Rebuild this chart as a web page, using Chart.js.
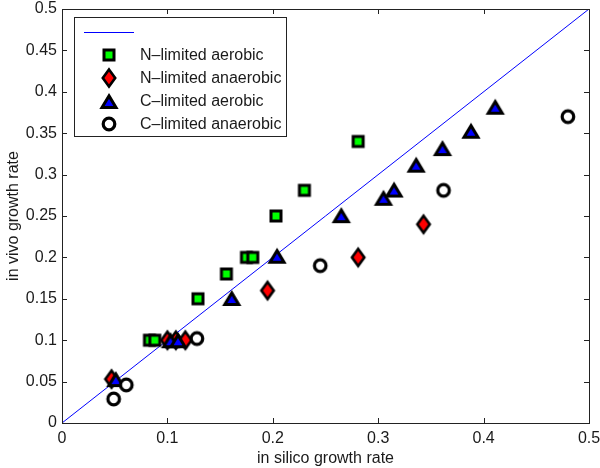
<!DOCTYPE html>
<html>
<head>
  <meta charset="utf-8" />
  <script src="https://cdn.jsdelivr.net/npm/chart.js@4.4.0/dist/chart.umd.min.js"></script>
  <style>
    body{margin:0;background:#fff;overflow:hidden;}
  </style>
</head>
<body>
<canvas id="growthChart" width="600" height="468"></canvas>

<script>
// growth rates: x = in silico, y = in vivo
const diagX = [0, 0.5];
const diagY = [0, 0.5];

const nAerX = [0.083, 0.088, 0.129, 0.156, 0.175, 0.181, 0.203, 0.230, 0.281];
const nAerY = [0.100, 0.100, 0.150, 0.180, 0.200, 0.200, 0.250, 0.281, 0.340];

const nAnaerX = [0.047, 0.100, 0.108, 0.117, 0.195, 0.281, 0.343];
const nAnaerY = [0.053, 0.100, 0.100, 0.100, 0.160, 0.200, 0.240];

const cAerX = [0.051, 0.103, 0.110, 0.161, 0.204, 0.265, 0.305, 0.315, 0.336, 0.361, 0.388, 0.411];
const cAerY = [0.053, 0.100, 0.100, 0.151, 0.202, 0.251, 0.272, 0.282, 0.312, 0.332, 0.353, 0.382];

const cAnaerX = [0.049, 0.061, 0.128, 0.245, 0.362, 0.480];
const cAnaerY = [0.029, 0.046, 0.102, 0.190, 0.281, 0.370];

const seriesNames = ['', 'N\u2013limited aerobic', 'N\u2013limited anaerobic', 'C\u2013limited aerobic', 'C\u2013limited anaerobic'];

const xTicks = [0, 0.1, 0.2, 0.3, 0.4, 0.5];
const xTickLabels = ['0', '0.1', '0.2', '0.3', '0.4', '0.5'];
const yTicks = [0, 0.05, 0.1, 0.15, 0.2, 0.25, 0.3, 0.35, 0.4, 0.45, 0.5];
const yTickLabels = ['0', '0.05', '0.1', '0.15', '0.2', '0.25', '0.3', '0.35', '0.4', '0.45', '0.5'];

const FONT = '"Liberation Sans", Arial, Helvetica, sans-serif';
const INK = '#1a1a1a';
const TICK = 5;

const pts = (xs, ys) => xs.map((x, i) => ({ x: x, y: ys[i] }));

// matlab-ish markers drawn on little canvases
function marker(kind, fill){
  const c = document.createElement('canvas');
  const size = { square:[16,16], diamond:[20,26], triangle:[22,20], circle:[18,18] }[kind];
  c.width = size[0]; c.height = size[1];
  const g = c.getContext('2d');
  g.fillStyle = fill; g.strokeStyle = '#000'; g.lineJoin = 'miter';
  g.beginPath();
  if(kind === 'square'){
    g.lineWidth = 3; g.rect(3, 3, 10, 10);
  } else if(kind === 'diamond'){
    g.lineWidth = 2.6;
    g.moveTo(10, 4.5); g.lineTo(16.2, 13); g.lineTo(10, 21.5); g.lineTo(3.8, 13); g.closePath();
  } else if(kind === 'triangle'){
    g.lineWidth = 3;
    g.moveTo(11, 4.9); g.lineTo(18, 16.4); g.lineTo(4, 16.4); g.closePath();
  } else {
    g.lineWidth = 3.2; g.arc(9, 9, 5.8, 0, Math.PI*2);
  }
  g.fill(); g.stroke();
  return c;
}

const frameTicks = {
  id: 'frameTicks',
  afterDatasetsDraw(chart){
    const { ctx, chartArea: a, scales: { x, y } } = chart;
    ctx.save();
    ctx.strokeStyle = '#222'; ctx.lineWidth = 1;
    ctx.beginPath();
    xTicks.forEach(v => {
      const px = Math.round(x.getPixelForValue(v)) + 0.5;
      ctx.moveTo(px, a.bottom); ctx.lineTo(px, a.bottom - TICK);
      ctx.moveTo(px, a.top); ctx.lineTo(px, a.top + TICK);
    });
    yTicks.forEach(v => {
      const py = Math.round(y.getPixelForValue(v)) + 0.5;
      ctx.moveTo(a.left, py); ctx.lineTo(a.left + TICK, py);
      ctx.moveTo(a.right, py); ctx.lineTo(a.right - TICK, py);
    });
    ctx.stroke();
    ctx.strokeRect(Math.round(a.left) + 0.5, Math.round(a.top) + 0.5, Math.round(a.right - a.left), Math.round(a.bottom - a.top));
    ctx.restore();
  }
};

// boxed legend in the top-left corner of the axes
const boxLegend = {
  id: 'boxLegend',
  afterDraw(chart){
    const { ctx, chartArea: a } = chart;
    const bx = Math.round(a.left) + 12, by = Math.round(a.top) + 8, bw = 212, bh = 119;
    ctx.save();
    ctx.fillStyle = '#fff'; ctx.fillRect(bx, by, bw, bh);
    ctx.strokeStyle = '#222'; ctx.lineWidth = 1; ctx.strokeRect(bx + 0.5, by + 0.5, bw, bh);
    ctx.font = '16px ' + FONT; ctx.fillStyle = INK; ctx.textBaseline = 'middle';
    chart.data.datasets.forEach((ds, i) => {
      const cy = by + 15 + i * 23, cx = bx + 35;
      if(ds.showLine){
        ctx.strokeStyle = ds.borderColor; ctx.lineWidth = 1;
        ctx.beginPath(); ctx.moveTo(cx - 25, cy + 0.5); ctx.lineTo(cx + 25, cy + 0.5); ctx.stroke();
      } else {
        const m = ds.pointStyle;
        ctx.drawImage(m, Math.round(cx - m.width/2), Math.round(cy - m.height/2));
      }
      ctx.fillText(ds.label, bx + 66, cy + 1);
    });
    ctx.restore();
  }
};

new Chart(document.getElementById('growthChart'), {
  type: 'scatter',
  data: {
    datasets: [
      { label: seriesNames[0], data: pts(diagX, diagY), showLine: true, borderColor: '#0000ff', borderWidth: 1, pointRadius: 0, order: 5 },
      { label: seriesNames[1], data: pts(nAerX, nAerY), pointStyle: marker('square', '#00ff00'), pointRadius: 7, order: 4 },
      { label: seriesNames[2], data: pts(nAnaerX, nAnaerY), pointStyle: marker('diamond', '#ff0000'), pointRadius: 7, order: 3 },
      { label: seriesNames[3], data: pts(cAerX, cAerY), pointStyle: marker('triangle', '#0000ff'), pointRadius: 7, order: 2 },
      { label: seriesNames[4], data: pts(cAnaerX, cAnaerY), pointStyle: marker('circle', '#ffffff'), pointRadius: 7, order: 1 }
    ]
  },
  options: {
    responsive: false, animation: false, events: [],
    layout: { padding: 0 },
    plugins: { legend: { display: false }, tooltip: { enabled: false } },
    scales: {
      x: {
        type: 'linear', min: 0, max: 0.5,
        grid: { display: false, drawTicks: false }, border: { display: false },
        afterBuildTicks: s => { s.ticks = xTicks.map(v => ({ value: v })); },
        afterFit: s => { s.height = 45; s.paddingLeft = 0; s.paddingRight = 11; },
        ticks: { autoSkip: false, maxRotation: 0, padding: 6, color: INK, font: { family: FONT, size: 16 },
                 callback: (v, i) => xTickLabels[i] },
        title: { display: true, text: 'in silico growth rate', color: INK, font: { family: FONT, size: 16 }, padding: { top: 0, bottom: 0 } }
      },
      y: {
        type: 'linear', min: 0, max: 0.5,
        grid: { display: false, drawTicks: false }, border: { display: false },
        afterBuildTicks: s => { s.ticks = yTicks.map(v => ({ value: v })); },
        afterFit: s => { s.width = 62; s.paddingTop = 9; s.paddingBottom = 0; },
        ticks: { autoSkip: false, padding: 5, color: INK, font: { family: FONT, size: 16 },
                 callback: (v, i) => yTickLabels[i] },
        title: { display: true, text: 'in vivo growth rate', color: INK, font: { family: FONT, size: 16 }, padding: { top: 4, bottom: 4 } }
      }
    }
  },
  plugins: [frameTicks, boxLegend]
});
</script>
</body>
</html>
